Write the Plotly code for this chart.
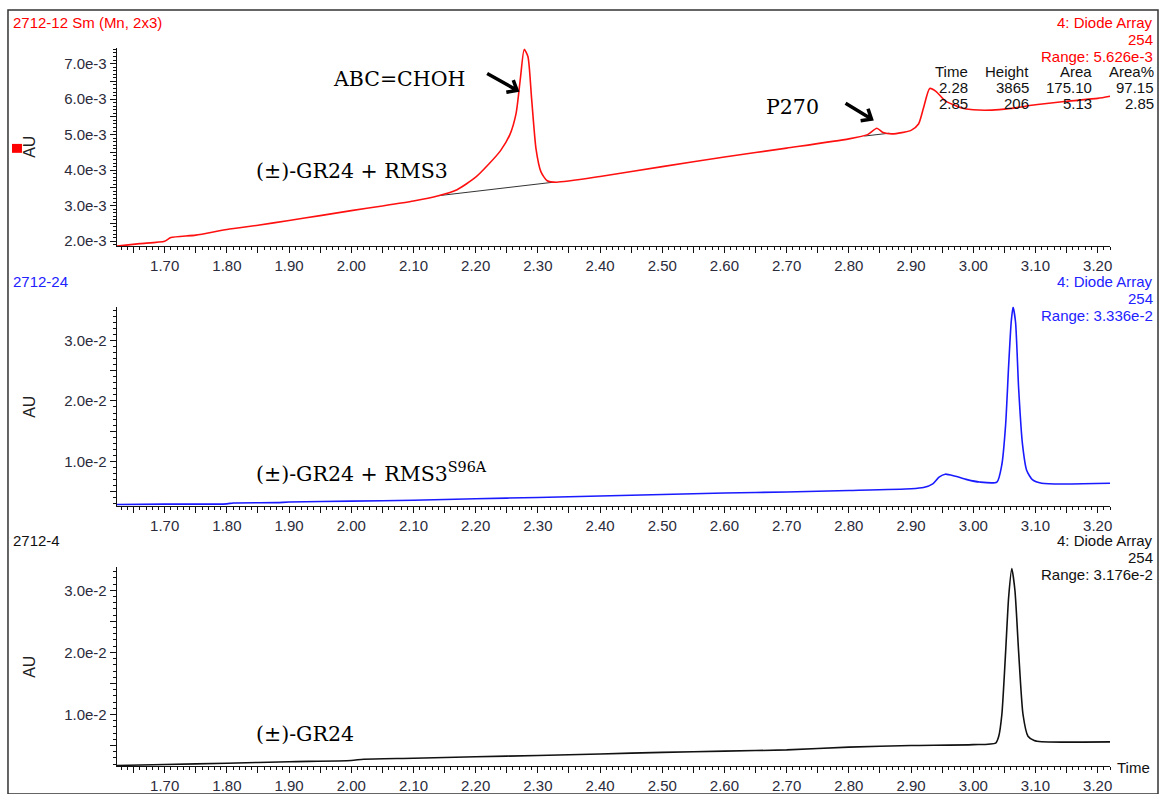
import math
import plotly.graph_objects as go

W, H = 1161, 794

# ---------------- data ----------------
red_time = [1.623, 1.66, 1.70, 1.71, 1.75, 1.80, 1.85, 1.90, 1.95, 2.00, 2.05, 2.10,
            2.14, 2.17, 2.20, 2.22, 2.24, 2.255, 2.265, 2.272, 2.278, 2.284, 2.29,
            2.297, 2.305, 2.315, 2.33, 2.40, 2.50, 2.60, 2.70, 2.80, 2.83, 2.845,
            2.855, 2.87, 2.90, 2.912, 2.92, 2.93, 2.94, 2.955, 2.98, 3.00, 3.03,
            3.06, 3.10, 3.15, 3.20, 3.22]
red_au = [1.86e-3, 1.93e-3, 2.00e-3, 2.10e-3, 2.17e-3, 2.33e-3, 2.45e-3, 2.58e-3,
          2.72e-3, 2.86e-3, 2.99e-3, 3.13e-3, 3.28e-3, 3.45e-3, 3.80e-3, 4.15e-3,
          4.55e-3, 5.00e-3, 5.60e-3, 6.60e-3, 7.40e-3, 7.20e-3, 6.00e-3, 4.60e-3,
          3.95e-3, 3.70e-3, 3.66e-3, 3.82e-3, 4.10e-3, 4.37e-3, 4.62e-3, 4.88e-3,
          5.00e-3, 5.18e-3, 5.06e-3, 5.02e-3, 5.12e-3, 5.30e-3, 5.75e-3, 6.30e-3,
          6.22e-3, 5.95e-3, 5.76e-3, 5.70e-3, 5.69e-3, 5.74e-3, 5.84e-3, 5.94e-3,
          6.02e-3, 6.08e-3]

base1_time = [2.14, 2.325]
base1_au = [3.28e-3, 3.66e-3]
base2_time = [2.825, 2.865]
base2_au = [4.96e-3, 5.04e-3]

blue_time = [1.623, 1.70, 1.80, 1.81, 1.88, 1.90, 2.00, 2.10, 2.20, 2.30, 2.40, 2.50,
             2.60, 2.70, 2.80, 2.90, 2.92, 2.935, 2.945, 2.955, 2.97, 2.99, 3.01,
             3.038, 3.046, 3.052, 3.057, 3.061, 3.064, 3.068, 3.073, 3.079, 3.086,
             3.095, 3.11, 3.22]
blue_au = [2.9e-3, 2.95e-3, 3.0e-3, 3.15e-3, 3.2e-3, 3.3e-3, 3.45e-3, 3.6e-3, 3.85e-3,
           4.05e-3, 4.3e-3, 4.55e-3, 4.8e-3, 4.95e-3, 5.2e-3, 5.5e-3, 5.7e-3, 6.3e-3,
           7.4e-3, 7.9e-3, 7.6e-3, 7.0e-3, 6.6e-3, 6.6e-3, 9.5e-3, 1.60e-2, 2.60e-2,
           3.30e-2, 3.55e-2, 3.30e-2, 2.20e-2, 1.30e-2, 8.5e-3, 7.0e-3, 6.4e-3, 6.4e-3]

black_time = [1.623, 1.70, 1.80, 1.90, 2.00, 2.02, 2.10, 2.20, 2.30, 2.40, 2.50, 2.60,
              2.70, 2.80, 2.90, 3.00, 3.036, 3.041, 3.046, 3.052, 3.057, 3.062, 3.067,
              3.073, 3.080, 3.088, 3.098, 3.11, 3.22]
black_au = [1.8e-3, 1.95e-3, 2.15e-3, 2.4e-3, 2.6e-3, 2.8e-3, 2.95e-3, 3.2e-3, 3.4e-3,
            3.65e-3, 3.9e-3, 4.1e-3, 4.3e-3, 4.75e-3, 5.0e-3, 5.15e-3, 5.4e-3, 6.5e-3,
            1.00e-2, 2.00e-2, 2.90e-2, 3.35e-2, 3.00e-2, 2.00e-2, 1.00e-2, 6.5e-3,
            5.8e-3, 5.6e-3, 5.6e-3]

x_tickvals = [round(1.65 + 0.05 * i, 2) for i in range(32)]
x_ticktext = ["%.2f" % v if round(v * 100) % 10 == 0 else "" for v in x_tickvals]

y1_tickvals = [2.0e-3, 2.5e-3, 3.0e-3, 3.5e-3, 4.0e-3, 4.5e-3, 5.0e-3, 5.5e-3, 6.0e-3, 6.5e-3, 7.0e-3]
y1_ticktext = ["2.0e-3", "", "3.0e-3", "", "4.0e-3", "", "5.0e-3", "", "6.0e-3", "", "7.0e-3"]
y23_tickvals = [5.0e-3, 1.0e-2, 1.5e-2, 2.0e-2, 2.5e-2, 3.0e-2]
y23_ticktext = ["", "1.0e-2", "", "2.0e-2", "", "3.0e-2"]

headers = [
    # (left title, colour, right lines, y px of first line)
    ("2712-12 Sm (Mn, 2x3)", "#ff0000", ["4: Diode Array", "254", "Range: 5.626e-3"], 23),
    ("2712-24", "#2222ff", ["4: Diode Array", "254", "Range: 3.336e-2"], 284),
    ("2712-4", "#111111", ["4: Diode Array", "254", "Range: 3.176e-2"], 545),
]

table_cols = ["Time", "Height", "Area", "Area%"]
table_rows = [["2.28", "3865", "175.10", "97.15"], ["2.85", "206", "5.13", "2.85"]]

# ---------------- layout helpers ----------------
def px(x):
    return x / W

def py(y):
    return 1 - y / H

panels = [(48, 248), (309, 510), (571, 772)]
yranges = [[1.86e-3, 7.45e-3], [2.62e-3, 3.557e-2], [1.68e-3, 3.38e-2]]

fig = go.Figure()

fig.add_trace(go.Scatter(x=base1_time, y=base1_au, mode="lines",
                         line=dict(color="#333333", width=1), xaxis="x", yaxis="y"))
fig.add_trace(go.Scatter(x=base2_time, y=base2_au, mode="lines",
                         line=dict(color="#333333", width=1), xaxis="x", yaxis="y"))
fig.add_trace(go.Scatter(x=red_time, y=red_au, mode="lines",
                         line=dict(color="#ff1010", width=1.6, shape="spline", smoothing=0.6),
                         xaxis="x", yaxis="y"))
fig.add_trace(go.Scatter(x=blue_time, y=blue_au, mode="lines",
                         line=dict(color="#1a1aff", width=1.6, shape="spline", smoothing=0.6),
                         xaxis="x2", yaxis="y2"))
fig.add_trace(go.Scatter(x=black_time, y=black_au, mode="lines",
                         line=dict(color="#111111", width=1.6, shape="spline", smoothing=0.6),
                         xaxis="x3", yaxis="y3"))

sans = "Liberation Sans, Arial, sans-serif"
serif = "DejaVu Serif, Liberation Serif, serif"
tickfont = dict(family=sans, size=15, color="#2b2b3b")

layout = dict(
    width=W, height=H, margin=dict(l=0, r=0, t=0, b=0),
    paper_bgcolor="white", plot_bgcolor="white", showlegend=False,
)

for i, ((top, bot), yr) in enumerate(zip(panels, yranges)):
    sfx = "" if i == 0 else str(i + 1)
    layout["xaxis" + sfx] = dict(
        domain=[px(117), px(1112)], anchor="y" + sfx, range=[1.623, 3.22],
        tickmode="array", tickvals=x_tickvals, ticktext=x_ticktext,
        ticks="outside", ticklen=6, tickwidth=1, tickcolor="#111",
        minor=dict(tickmode="linear", tick0=1.60, dtick=0.01, ticklen=3,
                   ticks="outside", tickcolor="#111", showgrid=False),
        showline=True, linecolor="#111", linewidth=1.2,
        showgrid=False, zeroline=False, tickfont=tickfont,
    )
    if i == 0:
        tv, tt, mdt = y1_tickvals, y1_ticktext, 1e-4
    else:
        tv, tt, mdt = y23_tickvals, y23_ticktext, 1e-3
    layout["yaxis" + sfx] = dict(
        domain=[py(bot), py(top)], anchor="x" + sfx, range=yr,
        tickmode="array", tickvals=tv, ticktext=tt,
        ticks="outside", ticklen=6, tickwidth=1, tickcolor="#111",
        minor=dict(tickmode="linear", tick0=0, dtick=mdt, ticklen=3,
                   ticks="outside", tickcolor="#111", showgrid=False),
        showline=True, linecolor="#111", linewidth=1.2,
        showgrid=False, zeroline=False, tickfont=tickfont, ticklabelstandoff=0,
    )

fig.update_layout(**layout)

ann = []

for (title, col, rlines, y0) in headers:
    ann.append(dict(text=title, x=px(11), y=py(y0), xref="paper", yref="paper",
                    xanchor="left", yanchor="middle", showarrow=False,
                    font=dict(family=sans, size=15, color=col)))
    for k, t in enumerate(rlines):
        ann.append(dict(text=t, x=px(1157), y=py(y0 + 17 * k), xref="paper", yref="paper",
                        xanchor="right", yanchor="middle", showarrow=False,
                        font=dict(family=sans, size=15, color=col)))

col_right = [972, 1033, 1096, 1158]
for j, c in enumerate(table_cols):
    ann.append(dict(text=c, x=px(col_right[j]), y=py(72), xref="paper", yref="paper",
                    xanchor="right", yanchor="middle", showarrow=False,
                    font=dict(family=sans, size=15, color="#111")))
    for r, row in enumerate(table_rows):
        ann.append(dict(text=row[j], x=px(col_right[j]), y=py(88 + 16 * r), xref="paper",
                        yref="paper", xanchor="right", yanchor="middle", showarrow=False,
                        font=dict(family=sans, size=15, color="#111")))

for yc in [148, 410, 672]:
    ann.append(dict(text="AU", x=px(30), y=py(yc), xref="paper", yref="paper",
                    xanchor="center", yanchor="middle", showarrow=False, textangle=-90,
                    font=dict(family=sans, size=16, color="#222")))

ann.append(dict(text="Time", x=px(1117), y=py(773), xref="paper", yref="paper",
                xanchor="left", yanchor="middle", showarrow=False,
                font=dict(family=sans, size=15, color="#111")))

labels = [
    ("ABC=CHOH", 332, 80),
    ("(±)-GR24 + RMS3", 254, 172),
    ("P270", 765, 108),
    ("(±)-GR24 + RMS3<sup>S96A</sup>", 254, 476),
    ("(±)-GR24", 254, 740),
]
for t, xx, yy in labels:
    ann.append(dict(text=t, x=px(xx), y=py(yy), xref="paper", yref="paper",
                    xanchor="left", yanchor="middle", showarrow=False,
                    font=dict(family=serif, size=20.5, color="#000")))

fig.update_layout(annotations=ann)

# pointer arrows (decorations, page pixels: tail -> head)
arrows_px = [((488, 74), (518, 91)), ((847, 104), (873, 120))]
for (tx, ty), (hx, hy) in arrows_px:
    dx, dy = hx - tx, hy - ty
    ln = math.hypot(dx, dy)
    ux, uy = dx / ln, dy / ln
    wings = []
    for ang in (math.radians(40), -math.radians(40)):
        cx = -ux * math.cos(ang) + uy * math.sin(ang)
        cy = -uy * math.cos(ang) - ux * math.sin(ang)
        wings.append((hx + 11 * cx, hy + 11 * cy))
    path = (f"M {px(tx)} {py(ty)} L {px(hx)} {py(hy)} "
            f"M {px(wings[0][0])} {py(wings[0][1])} L {px(hx)} {py(hy)} "
            f"L {px(wings[1][0])} {py(wings[1][1])}")
    fig.add_shape(type="path", xref="paper", yref="paper", path=path,
                  line=dict(color="#000", width=3.5))

fig.add_shape(type="rect", xref="paper", yref="paper", x0=px(8), x1=px(1160),
              y0=py(800), y1=py(10), line=dict(color="#333", width=1.5))
fig.add_shape(type="rect", xref="paper", yref="paper", x0=px(12), x1=px(22),
              y0=py(154), y1=py(145), line=dict(width=0), fillcolor="#ff0000")

fig.write_html("out.html")
